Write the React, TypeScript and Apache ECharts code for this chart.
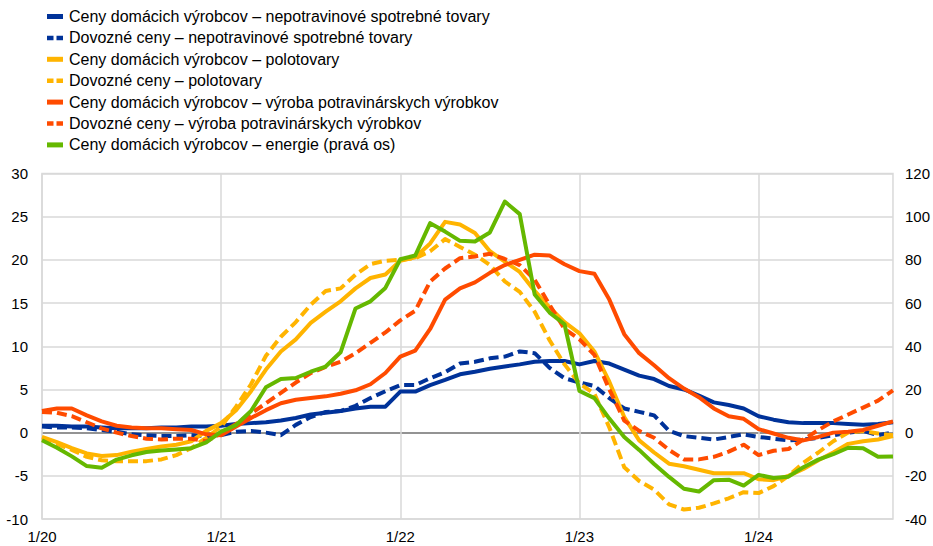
import React, { useEffect, useRef } from "react";
import * as echarts from "echarts";

const FONT = 'Arial, "Liberation Sans", Helvetica, sans-serif';

const categories = [
  "1/20", "2/20", "3/20", "4/20", "5/20", "6/20", "7/20", "8/20", "9/20", "10/20", "11/20", "12/20",
  "1/21", "2/21", "3/21", "4/21", "5/21", "6/21", "7/21", "8/21", "9/21", "10/21", "11/21", "12/21",
  "1/22", "2/22", "3/22", "4/22", "5/22", "6/22", "7/22", "8/22", "9/22", "10/22", "11/22", "12/22",
  "1/23", "2/23", "3/23", "4/23", "5/23", "6/23", "7/23", "8/23", "9/23", "10/23", "11/23", "12/23",
  "1/24", "2/24", "3/24", "4/24", "5/24", "6/24", "7/24", "8/24", "9/24", "10/24",
];

const seriesNames = [
  "Ceny domácich výrobcov – nepotravinové spotrebné tovary",
  "Dovozné ceny – nepotravinové spotrebné tovary",
  "Ceny domácich výrobcov – polotovary",
  "Dovozné ceny – polotovary",
  "Ceny domácich výrobcov – výroba potravinárskych výrobkov",
  "Dovozné ceny – výroba potravinárskych výrobkov",
  "Ceny domácich výrobcov – energie (pravá os)",
];

const domesticNonFood = [
  0.8, 0.8, 0.7, 0.7, 0.6, 0.5, 0.5, 0.5, 0.6, 0.6, 0.7, 0.7,
  0.8, 1.0, 1.1, 1.2, 1.4, 1.7, 2.1, 2.3, 2.5, 2.8, 3.0, 3.0,
  4.75, 4.75, 5.5, 6.1, 6.75, 7.05, 7.4, 7.65, 7.9, 8.2, 8.3, 8.3,
  7.9, 8.3, 8.0, 7.3, 6.6, 6.2, 5.4, 5.0, 4.3, 3.5, 3.2, 2.8,
  1.9, 1.5, 1.2, 1.1, 1.1, 1.1, 1.0, 0.9, 1.0, 1.2,
];
const importNonFood = [
  0.7, 0.6, 0.6, 0.5, 0.3, 0.1, -0.2, -0.3, -0.4, -0.4, -0.3, -0.4,
  -0.3, 0.1, 0.2, 0.0, -0.3, 0.9, 1.8, 2.4, 2.5, 3.1, 4.0, 4.8,
  5.5, 5.5, 6.3, 7.0, 8.0, 8.2, 8.6, 8.8, 9.4, 9.2, 7.5, 6.3,
  5.8, 5.4, 4.0, 2.8, 2.4, 2.0, 0.2, -0.4, -0.6, -0.8, -0.5, -0.2,
  -0.5, -0.7, -0.9, -0.8, -0.6, -0.3, 0.0, 0.2, -0.3, 0.0,
];
const domesticIntermediate = [
  -0.5, -1.1, -1.8, -2.4, -2.7, -2.6, -2.2, -1.9, -1.6, -1.4, -1.0, 0.2,
  1.1, 2.6, 4.8, 7.3, 9.4, 10.8, 12.7, 14.0, 15.2, 16.7, 17.9, 18.3,
  19.9, 20.3, 21.9, 24.4, 24.1, 23.1, 21.0, 19.8, 18.6, 16.4, 14.5, 12.8,
  11.5, 9.4, 5.9, 1.8, -0.9, -2.3, -3.6, -3.9, -4.3, -4.7, -4.7, -4.7,
  -5.4, -5.5, -5.0, -4.2, -3.2, -2.3, -1.3, -1.0, -0.8, -0.4,
];
const importIntermediate = [
  -0.7, -1.3, -2.0, -2.8, -3.2, -3.3, -3.3, -3.3, -3.1, -2.6, -1.8, -0.6,
  0.7, 3.0, 5.6, 8.9, 11.1, 12.8, 14.8, 16.4, 16.7, 18.3, 19.5, 19.9,
  20.0, 20.2, 21.0, 22.4, 21.5, 20.6, 19.4, 17.5, 16.3, 14.0, 10.7, 7.9,
  5.7, 4.5, 0.6, -4.0, -5.6, -6.6, -8.3, -8.9, -8.7, -8.2, -7.6, -6.9,
  -7.0, -6.2, -5.0, -3.5, -2.3, -1.0, 0.0, 0.2, -0.1, -0.3,
];
const domesticFood = [
  2.5, 2.8, 2.8, 2.0, 1.3, 0.8, 0.6, 0.5, 0.5, 0.4, 0.3, -0.2,
  -0.3, 0.7, 1.7, 2.6, 3.4, 3.8, 4.0, 4.2, 4.5, 4.9, 5.6, 6.9,
  8.8, 9.5, 12.0, 15.4, 16.7, 17.4, 18.5, 19.4, 20.0, 20.6, 20.5, 19.5,
  18.7, 18.4, 15.4, 11.4, 9.2, 7.8, 6.3, 5.1, 4.1, 2.8, 1.9, 1.6,
  0.4, -0.1, -0.6, -0.9, -0.5, 0.0, 0.1, 0.3, 0.8, 1.3,
];
const importFood = [
  2.4, 2.3, 1.9, 1.2, 0.5, 0.0, -0.4, -0.7, -0.8, -0.7, -0.7, -1.0,
  -0.1, 1.0, 2.2, 3.4, 4.6, 5.8, 6.9, 7.6, 8.2, 9.2, 10.4, 11.6,
  13.0, 14.1, 17.5, 19.0, 20.2, 20.4, 20.7, 20.1, 19.4, 17.7, 14.8, 12.0,
  10.8, 9.0, 5.0, 1.4, 0.2, -0.6, -2.0, -3.1, -3.1, -2.8, -2.2, -1.4,
  -2.6, -2.1, -1.9, -0.8, 0.3, 1.3, 2.1, 2.9, 3.7, 4.9,
];
const domesticEnergy = [
  -3.5, -7.0, -11.0, -15.5, -16.3, -12.5, -10.5, -9.0, -8.3, -7.8, -7.2, -4.5,
  0.5, 3.5, 10.0, 21.0, 24.8, 25.3, 28.2, 30.6, 37.2, 57.5, 60.8, 67.0,
  80.3, 82.0, 97.0, 93.1, 88.8, 88.5, 92.7, 107.0, 101.2, 64.0, 55.6, 50.2,
  19.3, 16.0, 6.5, -2.0, -8.0, -14.5, -20.5, -26.0, -27.3, -22.0, -21.8, -24.5,
  -19.6, -21.0, -20.4, -16.0, -12.5, -10.0, -7.0, -7.2, -11.2, -11.0,
];

const leftTicks = { min: -10, max: 30, interval: 5 };
const rightTicks = { min: -40, max: 120, interval: 20 };

const BLUE = "#003299";
const YELLOW = "#FFB400";
const ORANGE = "#FF4B00";
const GREEN = "#65B800";

const seriesData = [
  domesticNonFood,
  importNonFood,
  domesticIntermediate,
  importIntermediate,
  domesticFood,
  importFood,
  domesticEnergy,
];
const seriesColors = [BLUE, BLUE, YELLOW, YELLOW, ORANGE, ORANGE, GREEN];
const seriesDashed = [false, true, false, true, false, true, false];
const seriesAxis = [0, 0, 0, 0, 0, 0, 1];

const DASH_ICON = "path://M0,0h6.5v4.5h-6.5z M9.5,0h6.5v4.5h-6.5z";

export default function App() {
  const ref = useRef<HTMLDivElement>(null);

  useEffect(() => {
    if (!ref.current) return;
    const chart = echarts.init(ref.current, undefined, { renderer: "svg" });

    const gridColor = "#d9d9d9";
    const splitColors: string[] = [];
    for (let v = leftTicks.min; v <= leftTicks.max; v += leftTicks.interval) {
      splitColors.push(v === 0 ? "#6f6f6f" : gridColor);
    }

    const isYearStart = (_i: number, v: string) => String(v).startsWith("1/");

    const option: any = {
      animation: false,
      backgroundColor: "#ffffff",
      textStyle: { fontFamily: FONT },
      legend: {
        orient: "vertical",
        left: 42,
        top: 3.5,
        itemWidth: 16,
        itemHeight: 5,
        itemGap: 5.4,
        selectedMode: false,
        textStyle: {
          fontFamily: FONT,
          fontSize: 16,
          color: "#000000",
          lineHeight: 16,
          padding: [0, 0, 0, 1],
        },
        data: seriesNames.map((n, i) => ({
          name: n,
          icon: seriesDashed[i] ? DASH_ICON : "rect",
          itemStyle: { color: seriesColors[i], borderWidth: 0 },
        })),
      },
      grid: {
        left: 42,
        right: 40,
        top: 173.5,
        bottom: 27,
        show: true,
        borderColor: gridColor,
        borderWidth: 1.5,
        containLabel: false,
      },
      xAxis: {
        type: "category",
        data: categories,
        boundaryGap: false,
        axisLine: { show: false },
        axisTick: { show: false },
        axisLabel: {
          interval: isYearStart,
          fontFamily: FONT,
          fontSize: 15,
          color: "#000000",
          margin: 10,
        },
        splitLine: {
          show: true,
          interval: isYearStart,
          lineStyle: { color: gridColor, width: 1.5 },
        },
      },
      yAxis: [
        {
          type: "value",
          position: "left",
          min: leftTicks.min,
          max: leftTicks.max,
          interval: leftTicks.interval,
          axisLine: { show: false },
          axisTick: { show: false },
          axisLabel: { fontFamily: FONT, fontSize: 15, color: "#000000", margin: 14 },
          splitLine: { show: true, lineStyle: { color: splitColors, width: 1.5 } },
        },
        {
          type: "value",
          position: "right",
          min: rightTicks.min,
          max: rightTicks.max,
          interval: rightTicks.interval,
          axisLine: { show: false },
          axisTick: { show: false },
          axisLabel: { fontFamily: FONT, fontSize: 15, color: "#000000", margin: 12 },
          splitLine: { show: false },
        },
      ],
      series: seriesNames.map((n, i) => ({
        name: n,
        type: "line",
        yAxisIndex: seriesAxis[i],
        data: seriesData[i],
        symbol: "none",
        showSymbol: false,
        smooth: false,
        color: seriesColors[i],
        lineStyle: {
          color: seriesColors[i],
          width: 4,
          type: seriesDashed[i] ? [10, 5] : "solid",
          cap: "butt",
          join: "round",
        },
        z: 2 + (seriesAxis[i] === 1 ? 1 : 0),
      })),
    };

    chart.setOption(option);
    return () => {
      chart.dispose();
    };
  }, []);

  return (
    <div
      ref={ref}
      style={{ position: "fixed", left: 0, top: 0, width: 933, height: 546, background: "#fff" }}
    />
  );
}
